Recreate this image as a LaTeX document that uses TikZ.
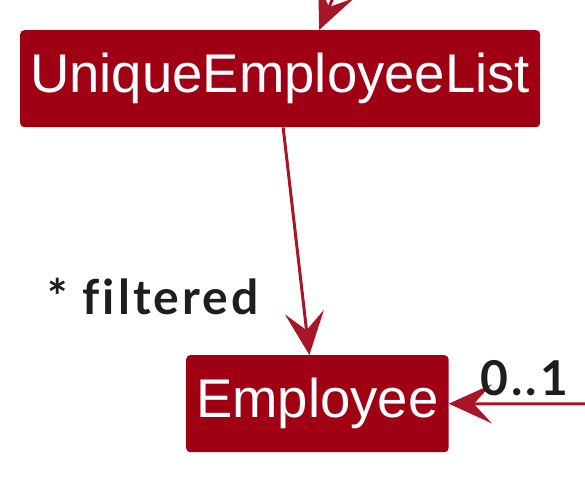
\documentclass[tikz,border=0pt]{standalone}
\usepackage{fontspec}
\setmainfont{Liberation Sans}
\newfontfamily\labfont[LetterSpace=6.5,Ligatures=NoCommon]{Lato}
\usetikzlibrary{arrows.meta}
\definecolor{boxred}{RGB}{160,0,20}
\definecolor{linered}{RGB}{168,20,40}
\definecolor{labgray}{RGB}{30,30,30}
\begin{document}
\begin{tikzpicture}[x=1pt,y=-1pt,
 cls/.style={fill=boxred, rounded corners=4pt, text=white, font=\fontsize{54.5}{60}\selectfont, inner xsep=10pt, inner ysep=0pt, minimum height=97pt},
 conn/.style={draw=linered, line width=3pt, -{Stealth[length=43pt,width=39pt,inset=18pt]}},
 lab/.style={text=labgray, font=\labfont\bfseries\fontsize{48}{52}\selectfont, inner sep=0pt}]
\useasboundingbox (0,0) rectangle (585,482);
\clip (0,0) rectangle (585,482);
\node[cls, anchor=north west] (uel) at (20,30) {UniqueEmployeeList};
\node[cls, anchor=north west] (emp) at (186,355) {Employee};
\coordinate (top) at (345,-30);
\coordinate (right) at (600,404);
\draw[conn] (top) -- ([xshift=39pt]uel.north);
\draw[conn] ([xshift=3pt]uel.south) -- ([xshift=-8pt]emp.north);
\draw[conn] (right) -- (emp.east);
\node[lab, anchor=west] (filt) at (47,296) {* filtered};
\node[lab, anchor=west] (mult) at (480,378) {0..1};
\end{tikzpicture}
\end{document}
